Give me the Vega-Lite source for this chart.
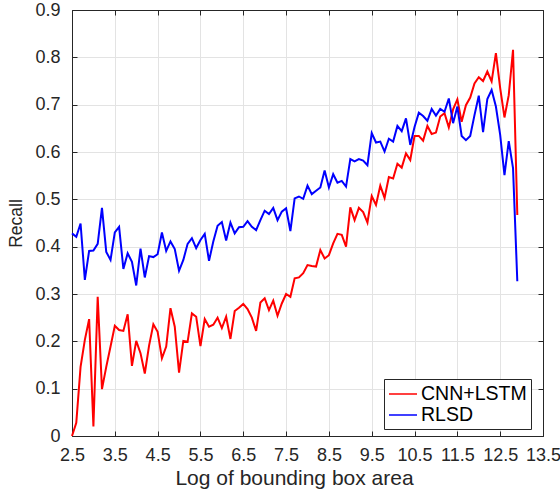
{
  "$schema": "https://vega.github.io/schema/vega-lite/v6.json",
  "width": 471,
  "height": 426,
  "autosize": {"type": "none"},
  "padding": {"left": 72, "top": 10, "right": 17, "bottom": 54},
  "background": "white",
  "config": {
    "view": {"stroke": "#262626", "strokeWidth": 1},
    "axis": {
      "labelFont": "Liberation Sans",
      "titleFont": "Liberation Sans",
      "labelColor": "#262626",
      "titleColor": "#262626",
      "domainColor": "#262626",
      "tickColor": "#262626",
      "gridColor": "#ff00ff",
      "grid": false,
      "tickSize": -5,
      "labelFontSize": 18,
      "labelOverlap": false,
      "labelFlush": false,
      "titleFontWeight": "normal"
    }
  },
  "data": {
    "values": [
      {"x": 2.5, "CNN+LSTM": 0.0, "RLSD": 0.428},
      {"x": 2.6, "CNN+LSTM": 0.028, "RLSD": 0.421},
      {"x": 2.7, "CNN+LSTM": 0.146, "RLSD": 0.449},
      {"x": 2.8, "CNN+LSTM": 0.203, "RLSD": 0.33},
      {"x": 2.9, "CNN+LSTM": 0.247, "RLSD": 0.391},
      {"x": 3.0, "CNN+LSTM": 0.02, "RLSD": 0.392},
      {"x": 3.1, "CNN+LSTM": 0.294, "RLSD": 0.406},
      {"x": 3.2, "CNN+LSTM": 0.099, "RLSD": 0.482},
      {"x": 3.3, "CNN+LSTM": 0.146, "RLSD": 0.389},
      {"x": 3.4, "CNN+LSTM": 0.189, "RLSD": 0.372},
      {"x": 3.5, "CNN+LSTM": 0.233, "RLSD": 0.43},
      {"x": 3.6, "CNN+LSTM": 0.224, "RLSD": 0.442},
      {"x": 3.7, "CNN+LSTM": 0.222, "RLSD": 0.353},
      {"x": 3.8, "CNN+LSTM": 0.257, "RLSD": 0.386},
      {"x": 3.9, "CNN+LSTM": 0.148, "RLSD": 0.368},
      {"x": 4.0, "CNN+LSTM": 0.201, "RLSD": 0.318},
      {"x": 4.1, "CNN+LSTM": 0.175, "RLSD": 0.396},
      {"x": 4.2, "CNN+LSTM": 0.132, "RLSD": 0.335},
      {"x": 4.3, "CNN+LSTM": 0.191, "RLSD": 0.38},
      {"x": 4.4, "CNN+LSTM": 0.236, "RLSD": 0.378},
      {"x": 4.5, "CNN+LSTM": 0.22, "RLSD": 0.384},
      {"x": 4.6, "CNN+LSTM": 0.164, "RLSD": 0.43},
      {"x": 4.7, "CNN+LSTM": 0.189, "RLSD": 0.391},
      {"x": 4.8, "CNN+LSTM": 0.27, "RLSD": 0.411},
      {"x": 4.9, "CNN+LSTM": 0.231, "RLSD": 0.395},
      {"x": 5.0, "CNN+LSTM": 0.134, "RLSD": 0.349},
      {"x": 5.1, "CNN+LSTM": 0.201, "RLSD": 0.372},
      {"x": 5.2, "CNN+LSTM": 0.199, "RLSD": 0.406},
      {"x": 5.3, "CNN+LSTM": 0.259, "RLSD": 0.418},
      {"x": 5.4, "CNN+LSTM": 0.252, "RLSD": 0.397},
      {"x": 5.5, "CNN+LSTM": 0.19, "RLSD": 0.414},
      {"x": 5.6, "CNN+LSTM": 0.247, "RLSD": 0.427},
      {"x": 5.7, "CNN+LSTM": 0.231, "RLSD": 0.37},
      {"x": 5.8, "CNN+LSTM": 0.235, "RLSD": 0.411},
      {"x": 5.9, "CNN+LSTM": 0.25, "RLSD": 0.444},
      {"x": 6.0, "CNN+LSTM": 0.228, "RLSD": 0.452},
      {"x": 6.1, "CNN+LSTM": 0.252, "RLSD": 0.413},
      {"x": 6.2, "CNN+LSTM": 0.205, "RLSD": 0.451},
      {"x": 6.3, "CNN+LSTM": 0.264, "RLSD": 0.428},
      {"x": 6.4, "CNN+LSTM": 0.271, "RLSD": 0.441},
      {"x": 6.5, "CNN+LSTM": 0.279, "RLSD": 0.442},
      {"x": 6.6, "CNN+LSTM": 0.268, "RLSD": 0.454},
      {"x": 6.7, "CNN+LSTM": 0.25, "RLSD": 0.442},
      {"x": 6.8, "CNN+LSTM": 0.222, "RLSD": 0.435},
      {"x": 6.9, "CNN+LSTM": 0.282, "RLSD": 0.456},
      {"x": 7.0, "CNN+LSTM": 0.291, "RLSD": 0.476},
      {"x": 7.1, "CNN+LSTM": 0.266, "RLSD": 0.469},
      {"x": 7.2, "CNN+LSTM": 0.286, "RLSD": 0.482},
      {"x": 7.3, "CNN+LSTM": 0.254, "RLSD": 0.456},
      {"x": 7.4, "CNN+LSTM": 0.28, "RLSD": 0.474},
      {"x": 7.5, "CNN+LSTM": 0.3, "RLSD": 0.481},
      {"x": 7.6, "CNN+LSTM": 0.294, "RLSD": 0.433},
      {"x": 7.7, "CNN+LSTM": 0.333, "RLSD": 0.502},
      {"x": 7.8, "CNN+LSTM": 0.335, "RLSD": 0.506},
      {"x": 7.9, "CNN+LSTM": 0.344, "RLSD": 0.501},
      {"x": 8.0, "CNN+LSTM": 0.361, "RLSD": 0.529},
      {"x": 8.1, "CNN+LSTM": 0.359, "RLSD": 0.511},
      {"x": 8.2, "CNN+LSTM": 0.358, "RLSD": 0.518},
      {"x": 8.3, "CNN+LSTM": 0.393, "RLSD": 0.525},
      {"x": 8.4, "CNN+LSTM": 0.375, "RLSD": 0.561},
      {"x": 8.5, "CNN+LSTM": 0.382, "RLSD": 0.525},
      {"x": 8.6, "CNN+LSTM": 0.407, "RLSD": 0.553},
      {"x": 8.7, "CNN+LSTM": 0.427, "RLSD": 0.535},
      {"x": 8.8, "CNN+LSTM": 0.425, "RLSD": 0.539},
      {"x": 8.9, "CNN+LSTM": 0.4, "RLSD": 0.527},
      {"x": 9.0, "CNN+LSTM": 0.483, "RLSD": 0.585},
      {"x": 9.1, "CNN+LSTM": 0.456, "RLSD": 0.58},
      {"x": 9.2, "CNN+LSTM": 0.482, "RLSD": 0.585},
      {"x": 9.3, "CNN+LSTM": 0.473, "RLSD": 0.582},
      {"x": 9.4, "CNN+LSTM": 0.451, "RLSD": 0.572},
      {"x": 9.5, "CNN+LSTM": 0.507, "RLSD": 0.64},
      {"x": 9.6, "CNN+LSTM": 0.488, "RLSD": 0.62},
      {"x": 9.7, "CNN+LSTM": 0.529, "RLSD": 0.622},
      {"x": 9.8, "CNN+LSTM": 0.503, "RLSD": 0.601},
      {"x": 9.9, "CNN+LSTM": 0.547, "RLSD": 0.628},
      {"x": 10.0, "CNN+LSTM": 0.544, "RLSD": 0.622},
      {"x": 10.1, "CNN+LSTM": 0.575, "RLSD": 0.655},
      {"x": 10.2, "CNN+LSTM": 0.567, "RLSD": 0.644},
      {"x": 10.3, "CNN+LSTM": 0.597, "RLSD": 0.671},
      {"x": 10.4, "CNN+LSTM": 0.583, "RLSD": 0.615},
      {"x": 10.5, "CNN+LSTM": 0.634, "RLSD": 0.653},
      {"x": 10.6, "CNN+LSTM": 0.634, "RLSD": 0.683},
      {"x": 10.7, "CNN+LSTM": 0.624, "RLSD": 0.676},
      {"x": 10.8, "CNN+LSTM": 0.655, "RLSD": 0.666},
      {"x": 10.9, "CNN+LSTM": 0.638, "RLSD": 0.691},
      {"x": 11.0, "CNN+LSTM": 0.641, "RLSD": 0.677},
      {"x": 11.1, "CNN+LSTM": 0.675, "RLSD": 0.691},
      {"x": 11.2, "CNN+LSTM": 0.682, "RLSD": 0.685},
      {"x": 11.3, "CNN+LSTM": 0.652, "RLSD": 0.713},
      {"x": 11.4, "CNN+LSTM": 0.69, "RLSD": 0.661},
      {"x": 11.5, "CNN+LSTM": 0.711, "RLSD": 0.696},
      {"x": 11.6, "CNN+LSTM": 0.664, "RLSD": 0.634},
      {"x": 11.7, "CNN+LSTM": 0.699, "RLSD": 0.625},
      {"x": 11.8, "CNN+LSTM": 0.715, "RLSD": 0.634},
      {"x": 11.9, "CNN+LSTM": 0.745, "RLSD": 0.678},
      {"x": 12.0, "CNN+LSTM": 0.758, "RLSD": 0.719},
      {"x": 12.1, "CNN+LSTM": 0.75, "RLSD": 0.642},
      {"x": 12.2, "CNN+LSTM": 0.77, "RLSD": 0.712},
      {"x": 12.3, "CNN+LSTM": 0.749, "RLSD": 0.731},
      {"x": 12.4, "CNN+LSTM": 0.809, "RLSD": 0.696},
      {"x": 12.5, "CNN+LSTM": 0.735, "RLSD": 0.636},
      {"x": 12.6, "CNN+LSTM": 0.673, "RLSD": 0.551},
      {"x": 12.7, "CNN+LSTM": 0.72, "RLSD": 0.623},
      {"x": 12.8, "CNN+LSTM": 0.816, "RLSD": 0.566},
      {"x": 12.9, "CNN+LSTM": 0.467, "RLSD": 0.327}
    ]
  },
  "transform": [{"fold": ["CNN+LSTM", "RLSD"], "as": ["series", "recall"]}],
  "layer": [
    {
      "mark": {"type": "line", "strokeWidth": 2},
      "encoding": {
        "x": {
          "field": "x",
          "type": "quantitative",
          "scale": {"domain": [2.5, 13.5], "nice": false, "zero": false},
          "axis": {
            "values": [2.5, 3.5, 4.5, 5.5, 6.5, 7.5, 8.5, 9.5, 10.5, 11.5, 12.5, 13.5],
            "format": ".1f",
            "title": "Log of bounding box area",
            "titleFontSize": 21,
            "titlePadding": 3,
            "titleX": 222,
            "titleAlign": "center",
            "labelPadding": 15,
            "grid": true,
            "gridColor": "#e3e3e3"
          }
        },
        "y": {
          "field": "recall",
          "type": "quantitative",
          "scale": {"domain": [0, 0.9], "nice": false},
          "axis": {
            "values": [0, 0.1, 0.2, 0.3, 0.4, 0.5, 0.6, 0.7, 0.8, 0.9],
            "labelExpr": "datum.value == 0 ? '0' : format(datum.value, '.1f')",
            "title": "Recall",
            "titleFontSize": 17.5,
            "titlePadding": 9,
            "labelPadding": 17,
            "grid": true,
            "gridColor": "#e3e3e3"
          }
        },
        "color": {
          "field": "series",
          "type": "nominal",
          "scale": {"domain": ["CNN+LSTM", "RLSD"], "range": ["#ff0000", "#0000ff"]},
          "legend": {
            "orient": "none",
            "legendX": 312,
            "legendY": 369,
            "title": null,
            "symbolType": "M-1.4,0L1.4,0",
            "symbolSize": 400,
            "symbolOffset": 4,
            "symbolStrokeWidth": 1.5,
            "labelFont": "Liberation Sans",
            "labelFontSize": 19.5,
            "labelColor": "#000000",
            "labelOffset": 7,
            "rowPadding": 0,
            "padding": 4,
            "strokeColor": "#262626",
            "fillColor": "white"
          }
        }
      }
    },
    {
      "mark": {"type": "line", "strokeOpacity": 0},
      "encoding": {
        "x": {
          "field": "x",
          "type": "quantitative",
          "scale": {"domain": [2.5, 13.5], "nice": false, "zero": false},
          "axis": {
            "orient": "top",
            "values": [2.5, 3.5, 4.5, 5.5, 6.5, 7.5, 8.5, 9.5, 10.5, 11.5, 12.5, 13.5],
            "labels": false,
            "title": null,
            "grid": false
          }
        },
        "y": {
          "field": "recall",
          "type": "quantitative",
          "scale": {"domain": [0, 0.9], "nice": false},
          "axis": {
            "orient": "right",
            "values": [0, 0.1, 0.2, 0.3, 0.4, 0.5, 0.6, 0.7, 0.8, 0.9],
            "labels": false,
            "title": null,
            "grid": false
          }
        },
        "detail": {"field": "series", "type": "nominal"}
      }
    }
  ],
  "resolve": {"scale": {"x": "independent", "y": "independent"}}
}
